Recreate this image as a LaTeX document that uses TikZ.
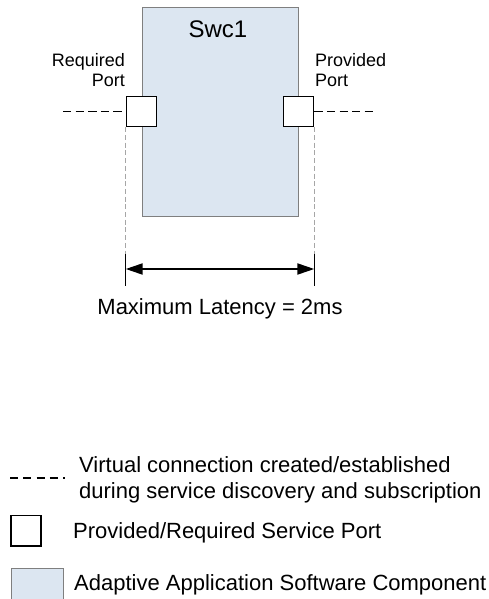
\documentclass[tikz,border=0pt]{standalone}
\usepackage{fontspec}
\setmainfont{Liberation Sans}
\usetikzlibrary{arrows.meta}
\definecolor{swcfill}{HTML}{DCE6F1}
\definecolor{swcline}{HTML}{7F7F7F}
\definecolor{guidegray}{HTML}{A6A6A6}
\begin{document}
\begin{tikzpicture}[x=1pt,y=-1pt,
  swcbox/.style={draw=swcline,line width=0.9pt,fill=swcfill,inner sep=0,minimum width=156.4pt,minimum height=209.1pt},
  portbox/.style={draw=black,line width=1.6pt,fill=white,inner sep=0,minimum size=30pt},
  legswc/.style={draw=swcline,line width=0.9pt,fill=swcfill,inner sep=0,minimum width=52pt,minimum height=36pt},
  vconn/.style={line width=1.3pt,dash pattern=on 8.3pt off 4.3pt},
  legconn/.style={line width=1.3pt,dash pattern=on 8pt off 5.3pt},
  guide/.style={draw=guidegray,line width=0.7pt,dash pattern=on 5pt off 2.7pt},
  tickline/.style={line width=1pt},
  latency/.style={line width=2pt,{Triangle[length=17pt,width=11pt]}-{Triangle[length=17pt,width=11pt]}},
  lbl/.style={inner sep=0,font=\fontsize{18}{20}\selectfont},
  big/.style={inner sep=0,font=\fontsize{22}{25.3}\selectfont},
  title/.style={inner sep=0,font=\fontsize{24}{28}\selectfont},
]
\useasboundingbox (0,0) rectangle (488,599);
% component
\node[swcbox] (swc) at (220.35,112.3) {};
\node[title,anchor=base] (swcname) at (218,38) {Swc1};
% ports
\node[portbox] (reqp) at (141.5,111.5) {};
\node[portbox] (provp) at (298.5,111.5) {};
\node[lbl,anchor=base east,align=right] (reqlbl) at (125,87) {Required\\Port};
\node[lbl,anchor=base west,align=left] (provlbl) at (315,87) {Provided\\Port};
% virtual connections
\coordinate (lend) at (63,111.5);
\coordinate (rend) at (373,111.5);
\draw[vconn] (lend) -- (reqp.west);
\draw[vconn] (provp.east) -- (rend);
% guides and latency
\coordinate (guideend) at (0,254);
\coordinate (tickbot) at (0,286);
\coordinate (arrowlvl) at (0,269);
\draw[guide] (reqp.south west) -- (reqp.south west |- guideend);
\draw[guide] (provp.south east) -- (provp.south east |- guideend);
\draw[tickline] (reqp.south west |- guideend) -- (reqp.south west |- tickbot);
\draw[tickline] (provp.south east |- guideend) -- (provp.south east |- tickbot);
\coordinate (la) at (reqp.south west |- arrowlvl);
\coordinate (lb) at (provp.south east |- arrowlvl);
\draw[latency] (la) -- (lb);
\node[big,anchor=base] (lattext) at (220,314) {Maximum Latency = 2ms};
% legend
\coordinate (lega) at (10,478);
\coordinate (legb) at (64.5,478);
\draw[legconn] (lega) -- (legb);
\node[big,anchor=base west,align=left] (legconntext) at (79,498) {Virtual connection created/established\\during service discovery and subscription};
\node[portbox,minimum size=30.4pt] (legport) at (26,530.5) {};
\node[big,anchor=base west] (legporttext) at (73,538) {Provided/Required Service Port};
\node[legswc] (legswcbox) at (37.5,586.5) {};
\node[big,anchor=base west] (legswctext) at (74,590) {Adaptive Application Software Component};
\end{tikzpicture}
\end{document}
